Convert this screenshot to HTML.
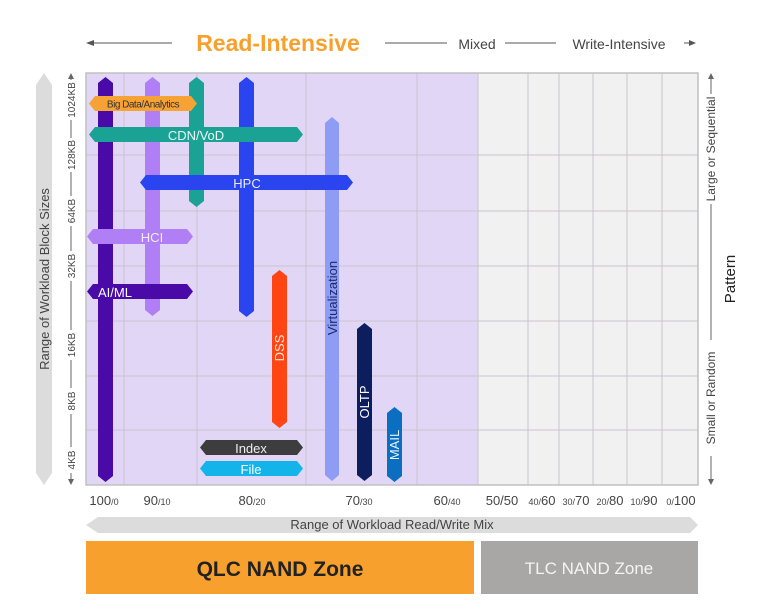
<!DOCTYPE html>
<html><head><meta charset="utf-8"><style>
body{margin:0;background:#fff;}
svg{display:block;font-family:"Liberation Sans",sans-serif;}
</style></head><body>
<svg width="768" height="610" viewBox="0 0 768 610" xmlns="http://www.w3.org/2000/svg">
<!-- top header -->
<line x1="92" y1="43" x2="172" y2="43" stroke="#555" stroke-width="1"/>
<path d="M86,43 l8,-3 v6 z" fill="#555"/>
<text x="278" y="51" text-anchor="middle" font-size="23" font-weight="bold" fill="#f7a02d">Read-Intensive</text>
<line x1="385" y1="43" x2="447" y2="43" stroke="#555"/>
<text x="477" y="49" text-anchor="middle" font-size="14" fill="#444">Mixed</text>
<line x1="505" y1="43" x2="556" y2="43" stroke="#555"/>
<text x="619" y="49" text-anchor="middle" font-size="14" fill="#444">Write-Intensive</text>
<line x1="684" y1="43" x2="690" y2="43" stroke="#555"/>
<path d="M696,43 l-7,-3 v6 z" fill="#555"/>
<!-- plot bg -->
<rect x="86" y="73" width="392" height="412" fill="#e2d6f7"/>
<rect x="478" y="73" width="220" height="412" fill="#f1f1f1"/>
<g stroke="#c9c4cf" stroke-width="1">
<line x1="124" y1="73" x2="124" y2="485"/><line x1="197" y1="73" x2="197" y2="485"/>
<line x1="306" y1="73" x2="306" y2="485"/><line x1="417" y1="73" x2="417" y2="485"/>
<line x1="478" y1="73" x2="478" y2="485"/><line x1="528" y1="73" x2="528" y2="485"/>
<line x1="559" y1="73" x2="559" y2="485"/><line x1="593" y1="73" x2="593" y2="485"/>
<line x1="627" y1="73" x2="627" y2="485"/><line x1="662" y1="73" x2="662" y2="485"/>
<line x1="86" y1="155" x2="698" y2="155"/><line x1="86" y1="211" x2="698" y2="211"/>
<line x1="86" y1="266" x2="698" y2="266"/><line x1="86" y1="321" x2="698" y2="321"/>
<line x1="86" y1="376" x2="698" y2="376"/><line x1="86" y1="430" x2="698" y2="430"/>
</g>
<rect x="86" y="73" width="612" height="412" fill="none" stroke="#c0c0c0" stroke-width="1.5"/>
<!-- vertical bars -->
<g>
<path d="M98,83 l7.5,-6 l7.5,6 V476 l-7.5,6 l-7.5,-6 z" fill="#4a0aa8"/>
<path d="M145,83 l7.5,-6 l7.5,6 V310 l-7.5,6 l-7.5,-6 z" fill="#b07ef5"/>
<path d="M189,83 l7.5,-6 l7.5,6 V201 l-7.5,6 l-7.5,-6 z" fill="#1aa394"/>
<path d="M239,83 l7.5,-6 l7.5,6 V311 l-7.5,6 l-7.5,-6 z" fill="#2a45f0"/>
<path d="M325,123 l7,-6 l7,6 V475 l-7,6 l-7,-6 z" fill="#8e9cf5"/>
<path d="M272,276 l7.5,-6 l7.5,6 V422 l-7.5,6 l-7.5,-6 z" fill="#ff4514"/>
<path d="M357,329 l7.5,-6 l7.5,6 V475 l-7.5,6 l-7.5,-6 z" fill="#0c1e5e"/>
<path d="M387,413 l7.5,-6 l7.5,6 V476 l-7.5,6 l-7.5,-6 z" fill="#0a6fc0"/>
</g>
<!-- horizontal bars -->
<path d="M95,96 H191 l6,7.5 l-6,7.5 H95 l-6,-7.5 z" fill="#f7a234"/>
<text x="143" y="107.5" text-anchor="middle" font-size="10" fill="#333" letter-spacing="-0.5">Big Data/Analytics</text>
<path d="M95,127 H297 l6,7.5 l-6,7.5 H95 l-6,-7.5 z" fill="#1aa394"/>
<text x="196" y="140" text-anchor="middle" font-size="13" fill="#e8f8f4">CDN/VoD</text>
<path d="M146,175 H347 l6,7.5 l-6,7.5 H146 l-6,-7.5 z" fill="#2a45f0"/>
<text x="247" y="188" text-anchor="middle" font-size="13" fill="#e8ecff">HPC</text>
<path d="M93,229 H187 l6,7.5 l-6,7.5 H93 l-6,-7.5 z" fill="#b07ef5"/>
<text x="152" y="242" text-anchor="middle" font-size="13" fill="#f4eaff">HCI</text>
<path d="M93,284 H187 l6,7.5 l-6,7.5 H93 l-6,-7.5 z" fill="#4a0aa8"/>
<text x="115" y="297" text-anchor="middle" font-size="13" fill="#fff">AI/ML</text>
<path d="M206,440 H297 l6,7.5 l-6,7.5 H206 l-6,-7.5 z" fill="#3d3d3d"/>
<text x="251" y="453" text-anchor="middle" font-size="13" fill="#eee">Index</text>
<path d="M206,461 H297 l6,7.5 l-6,7.5 H206 l-6,-7.5 z" fill="#12b4ea"/>
<text x="251" y="474" text-anchor="middle" font-size="13" fill="#fff">File</text>
<!-- vertical labels -->
<text transform="translate(337,298) rotate(-90)" text-anchor="middle" font-size="13" fill="#1a2a6a">Virtualization</text>
<text transform="translate(284,348) rotate(-90)" text-anchor="middle" font-size="13" fill="#ffe6dd">DSS</text>
<text transform="translate(369,402) rotate(-90)" text-anchor="middle" font-size="13" fill="#fff">OLTP</text>
<text transform="translate(399,445) rotate(-90)" text-anchor="middle" font-size="13" fill="#e6f3ff">MAIL</text>
<!-- left axis -->
<path d="M36,85 l8,-12 l8,12 V473 l-8,12 l-8,-12 z" fill="#dcdcdc"/>
<text transform="translate(49,279) rotate(-90)" text-anchor="middle" font-size="13" fill="#444">Range of Workload Block Sizes</text>
<line x1="71" y1="76" x2="71" y2="482" stroke="#666"/>
<path d="M71,73 l-3,6 h6 z M71,485 l-3,-6 h6 z" fill="#666"/>
<g font-size="10" fill="#444" text-anchor="middle">
<rect x="64" y="80" width="14" height="40" fill="#fff"/><text transform="translate(75,100) rotate(-90)">1024KB</text>
<rect x="64" y="138" width="14" height="34" fill="#fff"/><text transform="translate(75,155) rotate(-90)">128KB</text>
<rect x="64" y="196" width="14" height="30" fill="#fff"/><text transform="translate(75,211) rotate(-90)">64KB</text>
<rect x="64" y="251" width="14" height="30" fill="#fff"/><text transform="translate(75,266) rotate(-90)">32KB</text>
<rect x="64" y="330" width="14" height="30" fill="#fff"/><text transform="translate(75,345) rotate(-90)">16KB</text>
<rect x="64" y="388" width="14" height="26" fill="#fff"/><text transform="translate(75,401) rotate(-90)">8KB</text>
<rect x="64" y="447" width="14" height="26" fill="#fff"/><text transform="translate(75,460) rotate(-90)">4KB</text>
</g>
<!-- right axis -->
<line x1="711" y1="76" x2="711" y2="482" stroke="#666"/>
<path d="M711,73 l-3,6 h6 z M711,485 l-3,-6 h6 z" fill="#666"/>
<rect x="703" y="94" width="16" height="110" fill="#fff"/>
<text transform="translate(715,149) rotate(-90)" text-anchor="middle" font-size="12" fill="#444">Large or Sequential</text>
<rect x="703" y="340" width="16" height="116" fill="#fff"/>
<text transform="translate(715,398) rotate(-90)" text-anchor="middle" font-size="12" fill="#444">Small or Random</text>
<text transform="translate(735,279) rotate(-90)" text-anchor="middle" font-size="15" fill="#222">Pattern</text>
<!-- bottom ticks -->
<g font-size="13" fill="#444" text-anchor="middle">
<text x="104" y="505">100<tspan font-size="9">/0</tspan></text>
<text x="157" y="505">90<tspan font-size="9">/10</tspan></text>
<text x="252" y="505">80<tspan font-size="9">/20</tspan></text>
<text x="359" y="505">70<tspan font-size="9">/30</tspan></text>
<text x="447" y="505">60<tspan font-size="9">/40</tspan></text>
<text x="502" y="505">50/50</text>
<text x="542" y="505"><tspan font-size="9">40/</tspan>60</text>
<text x="576" y="505"><tspan font-size="9">30/</tspan>70</text>
<text x="610" y="505"><tspan font-size="9">20/</tspan>80</text>
<text x="644" y="505"><tspan font-size="9">10/</tspan>90</text>
<text x="681" y="505"><tspan font-size="9">0/</tspan>100</text>
</g>
<path d="M98,517 H690 l8,8 l-8,8 H98 l-12,-8 z" fill="#dcdcdc"/>
<text x="392" y="529" text-anchor="middle" font-size="13" fill="#444">Range of Workload Read/Write Mix</text>
<rect x="86" y="541" width="388" height="53" fill="#f7a02d"/>
<text x="280" y="576" text-anchor="middle" font-size="21" font-weight="bold" fill="#222">QLC NAND Zone</text>
<rect x="481" y="541" width="217" height="53" fill="#a9a7a5"/>
<text x="589" y="574" text-anchor="middle" font-size="17" fill="#f4f4f4">TLC NAND Zone</text>
</svg>
</body></html>
